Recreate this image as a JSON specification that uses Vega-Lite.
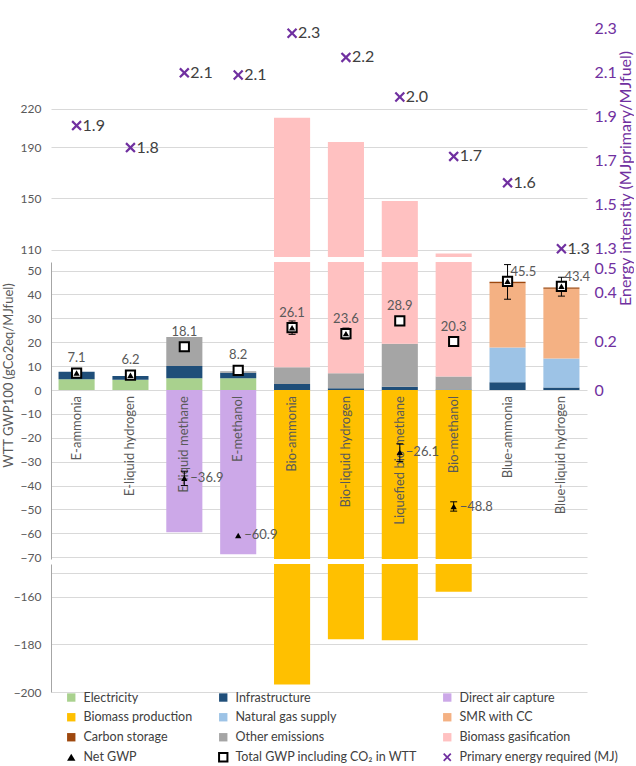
{
  "$schema": "https://vega.github.io/schema/vega-lite/v6.json",
  "background": "white",
  "padding": {"left": 2, "top": 0, "right": 0, "bottom": 0},
  "bounds": "flush",
  "spacing": 5,
  "datasets": {
    "comp": [
      {"fuel": "E-ammonia", "series": "Electricity", "value": 4.5},
      {"fuel": "E-ammonia", "series": "Infrastructure", "value": 3.1},
      {"fuel": "E-liquid hydrogen", "series": "Electricity", "value": 4.3},
      {"fuel": "E-liquid hydrogen", "series": "Infrastructure", "value": 1.6},
      {"fuel": "E-liquid methane", "series": "Electricity", "value": 4.9},
      {"fuel": "E-liquid methane", "series": "Infrastructure", "value": 5.1},
      {"fuel": "E-liquid methane", "series": "Other emissions", "value": 12.2},
      {"fuel": "E-liquid methane", "series": "Direct air capture", "value": -59.5},
      {"fuel": "E-methanol", "series": "Electricity", "value": 4.9},
      {"fuel": "E-methanol", "series": "Infrastructure", "value": 2.3},
      {"fuel": "E-methanol", "series": "Other emissions", "value": 0.7},
      {"fuel": "E-methanol", "series": "Direct air capture", "value": -68.8},
      {"fuel": "Bio-ammonia", "series": "Infrastructure", "value": 2.5},
      {"fuel": "Bio-ammonia", "series": "Other emissions", "value": 7.0},
      {"fuel": "Bio-ammonia", "series": "Biomass gasification", "value": 203.5},
      {"fuel": "Bio-ammonia", "series": "Biomass production", "value": -196.9},
      {"fuel": "Bio-liquid hydrogen", "series": "Infrastructure", "value": 0.7},
      {"fuel": "Bio-liquid hydrogen", "series": "Other emissions", "value": 6.3},
      {"fuel": "Bio-liquid hydrogen", "series": "Biomass gasification", "value": 187.0},
      {"fuel": "Bio-liquid hydrogen", "series": "Biomass production", "value": -177.8},
      {"fuel": "Liquefied bio-methane", "series": "Infrastructure", "value": 1.4},
      {"fuel": "Liquefied bio-methane", "series": "Other emissions", "value": 18.0},
      {"fuel": "Liquefied bio-methane", "series": "Biomass gasification", "value": 128.6},
      {"fuel": "Liquefied bio-methane", "series": "Biomass production", "value": -178.2},
      {"fuel": "Bio-methanol", "series": "Infrastructure", "value": 0.2},
      {"fuel": "Bio-methanol", "series": "Other emissions", "value": 5.4},
      {"fuel": "Bio-methanol", "series": "Biomass gasification", "value": 101.4},
      {"fuel": "Bio-methanol", "series": "Biomass production", "value": -157.9},
      {"fuel": "Blue-ammonia", "series": "Infrastructure", "value": 3.2},
      {"fuel": "Blue-ammonia", "series": "Natural gas supply", "value": 14.6},
      {"fuel": "Blue-ammonia", "series": "SMR with CC", "value": 26.9},
      {"fuel": "Blue-ammonia", "series": "Carbon storage", "value": 0.6},
      {"fuel": "Blue-liquid hydrogen", "series": "Infrastructure", "value": 1.0},
      {"fuel": "Blue-liquid hydrogen", "series": "Natural gas supply", "value": 12.2},
      {"fuel": "Blue-liquid hydrogen", "series": "SMR with CC", "value": 29.2},
      {"fuel": "Blue-liquid hydrogen", "series": "Carbon storage", "value": 0.5}
    ],
    "seriesOrder": [
      {"series": "Electricity", "rank": 1},
      {"series": "Infrastructure", "rank": 2},
      {"series": "Natural gas supply", "rank": 3},
      {"series": "SMR with CC", "rank": 4},
      {"series": "Carbon storage", "rank": 5},
      {"series": "Other emissions", "rank": 6},
      {"series": "Biomass gasification", "rank": 7},
      {"series": "Direct air capture", "rank": 8},
      {"series": "Biomass production", "rank": 9}
    ],
    "markers": [
      {"fuel": "E-ammonia", "total": 7.1, "net": 7.1},
      {"fuel": "E-liquid hydrogen", "total": 6.2, "net": 6.2},
      {"fuel": "E-liquid methane", "total": 18.1, "net": -36.9},
      {"fuel": "E-methanol", "total": 8.2, "net": -60.9},
      {"fuel": "Bio-ammonia", "total": 26.1, "net": 26.1},
      {"fuel": "Bio-liquid hydrogen", "total": 23.6, "net": 23.6},
      {"fuel": "Liquefied bio-methane", "total": 28.9, "net": -26.1},
      {"fuel": "Bio-methanol", "total": 20.3, "net": -48.8},
      {"fuel": "Blue-ammonia", "total": 45.5, "net": 45.5},
      {"fuel": "Blue-liquid hydrogen", "total": 43.4, "net": 43.4}
    ],
    "errs": [
      {"fuel": "E-liquid methane", "lo": -40.0, "hi": -34.0},
      {"fuel": "Bio-ammonia", "lo": 23.3, "hi": 28.9},
      {"fuel": "Bio-liquid hydrogen", "lo": 21.3, "hi": 25.9},
      {"fuel": "Liquefied bio-methane", "lo": -29.9, "hi": -22.5},
      {"fuel": "Bio-methanol", "lo": -50.7, "hi": -46.8},
      {"fuel": "Blue-ammonia", "lo": 38.0, "hi": 52.5},
      {"fuel": "Blue-liquid hydrogen", "lo": 39.3, "hi": 47.2}
    ],
    "energy": [
      {"fuel": "E-ammonia", "energy": 1.86},
      {"fuel": "E-liquid hydrogen", "energy": 1.76},
      {"fuel": "E-liquid methane", "energy": 2.1},
      {"fuel": "E-methanol", "energy": 2.09},
      {"fuel": "Bio-ammonia", "energy": 2.28},
      {"fuel": "Bio-liquid hydrogen", "energy": 2.17},
      {"fuel": "Liquefied bio-methane", "energy": 1.99},
      {"fuel": "Bio-methanol", "energy": 1.72},
      {"fuel": "Blue-ammonia", "energy": 1.6},
      {"fuel": "Blue-liquid hydrogen", "energy": 1.3}
    ]
  },
  "vconcat": [
    {
      "width": 536,
      "height": 257,
      "layer": [
        {
          "layer": [
            {
              "data": {"name": "comp"},
              "transform": [{"lookup": "series", "from": {"data": {"name": "seriesOrder"}, "key": "series", "fields": ["rank"]}}],
              "mark": {"type": "bar", "clip": true},
              "encoding": {
                "x": {"field": "fuel", "type": "nominal", "sort": null, "scale": {"domain": ["E-ammonia", "E-liquid hydrogen", "E-liquid methane", "E-methanol", "Bio-ammonia", "Bio-liquid hydrogen", "Liquefied bio-methane", "Bio-methanol", "Blue-ammonia", "Blue-liquid hydrogen"], "paddingInner": 0.33, "paddingOuter": 0.14}, "axis": null},
                "y": {"field": "value", "type": "quantitative", "stack": "zero", "scale": {"domain": [104.2, 305], "nice": false, "zero": false}, "axis": {"values": [110, 150, 190, 220], "title": null, "domain": false}},
                "color": {"field": "series", "type": "nominal", "scale": {"domain": ["Electricity", "Infrastructure", "Direct air capture", "Biomass production", "Natural gas supply", "SMR with CC", "Carbon storage", "Other emissions", "Biomass gasification", "Net GWP", "Total GWP including CO₂ in WTT", "Primary energy required (MJ)"], "range": ["#A9D18E", "#1F4E79", "#CCA8E8", "#FFC000", "#9DC3E6", "#F4B183", "#9E480E", "#A5A5A5", "#FFC1C1", "#000000", "#FFFFFF", "#7030A0"]}, "legend": {"title": null, "orient": "none", "legendX": 14, "legendY": 691, "direction": "horizontal", "columns": 3, "columnPadding": 22, "rowPadding": 3, "padding": 0, "symbolSize": 70, "labelFontSize": 12.5, "labelColor": "#404040", "labelOffset": 6, "labelLimit": 300, "encode": {"symbols": {"update": {"stroke": {"signal": "datum.value === 'Total GWP including CO₂ in WTT' ? '#000000' : 'transparent'"}, "strokeWidth": {"value": 2}, "opacity": {"value": 1}}}}}},
                "order": {"field": "rank", "type": "quantitative", "sort": "ascending"}
              }
            },
            {
              "mark": {"type": "rule", "color": "#A6A6A6"},
              "encoding": {"y": {"datum": 104.2, "type": "quantitative", "scale": {"domain": [104.2, 305], "nice": false, "zero": false}}}
            }
          ]
        },
        {
          "data": {"name": "energy"},
          "layer": [
            {
              "mark": {"type": "point", "filled": true, "opacity": 1, "size": 110},
              "encoding": {
                "x": {"field": "fuel", "type": "nominal", "sort": null, "scale": {"domain": ["E-ammonia", "E-liquid hydrogen", "E-liquid methane", "E-methanol", "Bio-ammonia", "Bio-liquid hydrogen", "Liquefied bio-methane", "Bio-methanol", "Blue-ammonia", "Blue-liquid hydrogen"], "paddingInner": 0.33, "paddingOuter": 0.14}, "axis": null},
                "y": {"field": "energy", "type": "quantitative", "scale": {"domain": [1.2627, 2.431], "nice": false, "zero": false}, "axis": {"orient": "right", "values": [1.3, 1.5, 1.7, 1.9, 2.1, 2.3], "format": ".1f", "grid": false, "domain": false, "labelColor": "#7030A0", "labelFontSize": 16, "labelPadding": 7, "title": "Energy intensity (MJprimary/MJfuel)", "titleColor": "#7030A0", "titleFontSize": 16, "titleFontWeight": "normal", "titleAngle": 270, "titleBaseline": "top", "titleAlign": "center", "titleY": 178, "titlePadding": 1}},
                "color": {"datum": "Primary energy required (MJ)", "type": "nominal", "scale": {"domain": ["Electricity", "Infrastructure", "Direct air capture", "Biomass production", "Natural gas supply", "SMR with CC", "Carbon storage", "Other emissions", "Biomass gasification", "Net GWP", "Total GWP including CO₂ in WTT", "Primary energy required (MJ)"], "range": ["#A9D18E", "#1F4E79", "#CCA8E8", "#FFC000", "#9DC3E6", "#F4B183", "#9E480E", "#A5A5A5", "#FFC1C1", "#000000", "#FFFFFF", "#7030A0"]}, "legend": {"title": null, "orient": "none", "legendX": 14, "legendY": 691, "direction": "horizontal", "columns": 3, "columnPadding": 22, "rowPadding": 3, "padding": 0, "symbolSize": 70, "labelFontSize": 12.5, "labelColor": "#404040", "labelOffset": 6, "labelLimit": 300, "encode": {"symbols": {"update": {"stroke": {"signal": "datum.value === 'Total GWP including CO₂ in WTT' ? '#000000' : 'transparent'"}, "strokeWidth": {"value": 2}, "opacity": {"value": 1}}}}}},
                "shape": {"datum": "Primary energy required (MJ)", "type": "nominal", "scale": {"domain": ["Electricity", "Infrastructure", "Direct air capture", "Biomass production", "Natural gas supply", "SMR with CC", "Carbon storage", "Other emissions", "Biomass gasification", "Net GWP", "Total GWP including CO₂ in WTT", "Primary energy required (MJ)"], "range": ["square", "square", "square", "square", "square", "square", "square", "square", "square", "triangle-up", "square", "M-1,-0.7L-0.7,-1L0,-0.3L0.7,-1L1,-0.7L0.3,0L1,0.7L0.7,1L0,0.3L-0.7,1L-1,0.7L-0.3,0Z"]}, "legend": {"title": null, "orient": "none", "legendX": 14, "legendY": 691, "direction": "horizontal", "columns": 3, "columnPadding": 22, "rowPadding": 3, "padding": 0, "symbolSize": 70, "labelFontSize": 12.5, "labelColor": "#404040", "labelOffset": 6, "labelLimit": 300, "encode": {"symbols": {"update": {"stroke": {"signal": "datum.value === 'Total GWP including CO₂ in WTT' ? '#000000' : 'transparent'"}, "strokeWidth": {"value": 2}, "opacity": {"value": 1}}}}}}
              }
            },
            {
              "mark": {"type": "text", "align": "left", "baseline": "middle", "dx": 6, "fontSize": 16, "color": "#404040"},
              "encoding": {
                "x": {"field": "fuel", "type": "nominal", "sort": null, "scale": {"domain": ["E-ammonia", "E-liquid hydrogen", "E-liquid methane", "E-methanol", "Bio-ammonia", "Bio-liquid hydrogen", "Liquefied bio-methane", "Bio-methanol", "Blue-ammonia", "Blue-liquid hydrogen"], "paddingInner": 0.33, "paddingOuter": 0.14}, "axis": null},
                "y": {"field": "energy", "type": "quantitative", "scale": {"domain": [1.2627, 2.431], "nice": false, "zero": false}},
                "text": {"field": "energy", "type": "quantitative", "format": ".1f"}
              }
            }
          ]
        }
      ],
      "resolve": {"scale": {"y": "independent"}}
    },
    {
      "width": 536,
      "height": 297,
      "layer": [
        {
          "layer": [
            {
              "data": {"name": "comp"},
              "transform": [{"lookup": "series", "from": {"data": {"name": "seriesOrder"}, "key": "series", "fields": ["rank"]}}],
              "mark": {"type": "bar", "clip": true},
              "encoding": {
                "x": {"field": "fuel", "type": "nominal", "sort": null, "scale": {"domain": ["E-ammonia", "E-liquid hydrogen", "E-liquid methane", "E-methanol", "Bio-ammonia", "Bio-liquid hydrogen", "Liquefied bio-methane", "Bio-methanol", "Blue-ammonia", "Blue-liquid hydrogen"], "paddingInner": 0.33, "paddingOuter": 0.14}, "axis": null},
                "y": {"field": "value", "type": "quantitative", "stack": "zero", "scale": {"domain": [-70.74, 53.58], "nice": false, "zero": false}, "axis": {"values": [-70, -60, -50, -40, -30, -20, -10, 0, 10, 20, 30, 40, 50], "tickCount": 13, "labelOverlap": false, "title": "WTT GWP100 (gCo2eq/MJfuel)", "titleFontSize": 13, "titleColor": "#595959", "titleFontWeight": "normal", "titlePadding": 5, "titleY": 113}},
                "color": {"field": "series", "type": "nominal", "scale": {"domain": ["Electricity", "Infrastructure", "Direct air capture", "Biomass production", "Natural gas supply", "SMR with CC", "Carbon storage", "Other emissions", "Biomass gasification", "Net GWP", "Total GWP including CO₂ in WTT", "Primary energy required (MJ)"], "range": ["#A9D18E", "#1F4E79", "#CCA8E8", "#FFC000", "#9DC3E6", "#F4B183", "#9E480E", "#A5A5A5", "#FFC1C1", "#000000", "#FFFFFF", "#7030A0"]}, "legend": {"title": null, "orient": "none", "legendX": 14, "legendY": 691, "direction": "horizontal", "columns": 3, "columnPadding": 22, "rowPadding": 3, "padding": 0, "symbolSize": 70, "labelFontSize": 12.5, "labelColor": "#404040", "labelOffset": 6, "labelLimit": 300, "encode": {"symbols": {"update": {"stroke": {"signal": "datum.value === 'Total GWP including CO₂ in WTT' ? '#000000' : 'transparent'"}, "strokeWidth": {"value": 2}, "opacity": {"value": 1}}}}}},
                "order": {"field": "rank", "type": "quantitative", "sort": "ascending"}
              }
            },
            {
              "mark": {"type": "rule", "color": "#A6A6A6"},
              "encoding": {"y": {"datum": 53.58, "type": "quantitative", "scale": {"domain": [-70.74, 53.58], "nice": false, "zero": false}}}
            },
            {
              "mark": {"type": "rule", "color": "#A6A6A6"},
              "encoding": {"y": {"datum": -70.74, "type": "quantitative", "scale": {"domain": [-70.74, 53.58], "nice": false, "zero": false}}}
            },
            {
              "data": {"name": "energy"},
              "mark": {"type": "text", "angle": 270, "align": "right", "baseline": "middle", "dx": -6, "fontSize": 13, "color": "#595959"},
              "encoding": {
                "x": {"field": "fuel", "type": "nominal", "sort": null, "scale": {"domain": ["E-ammonia", "E-liquid hydrogen", "E-liquid methane", "E-methanol", "Bio-ammonia", "Bio-liquid hydrogen", "Liquefied bio-methane", "Bio-methanol", "Blue-ammonia", "Blue-liquid hydrogen"], "paddingInner": 0.33, "paddingOuter": 0.14}, "axis": null},
                "y": {"datum": 0, "type": "quantitative", "scale": {"domain": [-70.74, 53.58], "nice": false, "zero": false}},
                "text": {"field": "fuel", "type": "nominal"}
              }
            },
            {
              "data": {"name": "errs"},
              "mark": {"type": "rule", "color": "#000000", "strokeWidth": 1},
              "encoding": {
                "x": {"field": "fuel", "type": "nominal", "sort": null, "scale": {"domain": ["E-ammonia", "E-liquid hydrogen", "E-liquid methane", "E-methanol", "Bio-ammonia", "Bio-liquid hydrogen", "Liquefied bio-methane", "Bio-methanol", "Blue-ammonia", "Blue-liquid hydrogen"], "paddingInner": 0.33, "paddingOuter": 0.14}, "axis": null},
                "y": {"field": "lo", "type": "quantitative", "scale": {"domain": [-70.74, 53.58], "nice": false, "zero": false}},
                "y2": {"field": "hi"}
              }
            },
            {
              "data": {"name": "errs"},
              "mark": {"type": "tick", "color": "#000000", "thickness": 1, "size": 7, "orient": "horizontal", "opacity": 1},
              "encoding": {
                "x": {"field": "fuel", "type": "nominal", "sort": null, "scale": {"domain": ["E-ammonia", "E-liquid hydrogen", "E-liquid methane", "E-methanol", "Bio-ammonia", "Bio-liquid hydrogen", "Liquefied bio-methane", "Bio-methanol", "Blue-ammonia", "Blue-liquid hydrogen"], "paddingInner": 0.33, "paddingOuter": 0.14}, "axis": null},
                "y": {"field": "lo", "type": "quantitative", "scale": {"domain": [-70.74, 53.58], "nice": false, "zero": false}}
              }
            },
            {
              "data": {"name": "errs"},
              "mark": {"type": "tick", "color": "#000000", "thickness": 1, "size": 7, "orient": "horizontal", "opacity": 1},
              "encoding": {
                "x": {"field": "fuel", "type": "nominal", "sort": null, "scale": {"domain": ["E-ammonia", "E-liquid hydrogen", "E-liquid methane", "E-methanol", "Bio-ammonia", "Bio-liquid hydrogen", "Liquefied bio-methane", "Bio-methanol", "Blue-ammonia", "Blue-liquid hydrogen"], "paddingInner": 0.33, "paddingOuter": 0.14}, "axis": null},
                "y": {"field": "hi", "type": "quantitative", "scale": {"domain": [-70.74, 53.58], "nice": false, "zero": false}}
              }
            },
            {
              "data": {"name": "markers"},
              "mark": {"type": "point", "filled": true, "opacity": 1, "size": 85, "stroke": "#000000", "strokeWidth": 2},
              "encoding": {
                "x": {"field": "fuel", "type": "nominal", "sort": null, "scale": {"domain": ["E-ammonia", "E-liquid hydrogen", "E-liquid methane", "E-methanol", "Bio-ammonia", "Bio-liquid hydrogen", "Liquefied bio-methane", "Bio-methanol", "Blue-ammonia", "Blue-liquid hydrogen"], "paddingInner": 0.33, "paddingOuter": 0.14}, "axis": null},
                "y": {"field": "total", "type": "quantitative", "scale": {"domain": [-70.74, 53.58], "nice": false, "zero": false}},
                "color": {"datum": "Total GWP including CO₂ in WTT", "type": "nominal", "scale": {"domain": ["Electricity", "Infrastructure", "Direct air capture", "Biomass production", "Natural gas supply", "SMR with CC", "Carbon storage", "Other emissions", "Biomass gasification", "Net GWP", "Total GWP including CO₂ in WTT", "Primary energy required (MJ)"], "range": ["#A9D18E", "#1F4E79", "#CCA8E8", "#FFC000", "#9DC3E6", "#F4B183", "#9E480E", "#A5A5A5", "#FFC1C1", "#000000", "#FFFFFF", "#7030A0"]}, "legend": {"title": null, "orient": "none", "legendX": 14, "legendY": 691, "direction": "horizontal", "columns": 3, "columnPadding": 22, "rowPadding": 3, "padding": 0, "symbolSize": 70, "labelFontSize": 12.5, "labelColor": "#404040", "labelOffset": 6, "labelLimit": 300, "encode": {"symbols": {"update": {"stroke": {"signal": "datum.value === 'Total GWP including CO₂ in WTT' ? '#000000' : 'transparent'"}, "strokeWidth": {"value": 2}, "opacity": {"value": 1}}}}}},
                "shape": {"datum": "Total GWP including CO₂ in WTT", "type": "nominal", "scale": {"domain": ["Electricity", "Infrastructure", "Direct air capture", "Biomass production", "Natural gas supply", "SMR with CC", "Carbon storage", "Other emissions", "Biomass gasification", "Net GWP", "Total GWP including CO₂ in WTT", "Primary energy required (MJ)"], "range": ["square", "square", "square", "square", "square", "square", "square", "square", "square", "triangle-up", "square", "M-1,-0.7L-0.7,-1L0,-0.3L0.7,-1L1,-0.7L0.3,0L1,0.7L0.7,1L0,0.3L-0.7,1L-1,0.7L-0.3,0Z"]}, "legend": {"title": null, "orient": "none", "legendX": 14, "legendY": 691, "direction": "horizontal", "columns": 3, "columnPadding": 22, "rowPadding": 3, "padding": 0, "symbolSize": 70, "labelFontSize": 12.5, "labelColor": "#404040", "labelOffset": 6, "labelLimit": 300, "encode": {"symbols": {"update": {"stroke": {"signal": "datum.value === 'Total GWP including CO₂ in WTT' ? '#000000' : 'transparent'"}, "strokeWidth": {"value": 2}, "opacity": {"value": 1}}}}}}
              }
            },
            {
              "data": {"name": "markers"},
              "mark": {"type": "point", "filled": true, "opacity": 1, "size": 40},
              "encoding": {
                "x": {"field": "fuel", "type": "nominal", "sort": null, "scale": {"domain": ["E-ammonia", "E-liquid hydrogen", "E-liquid methane", "E-methanol", "Bio-ammonia", "Bio-liquid hydrogen", "Liquefied bio-methane", "Bio-methanol", "Blue-ammonia", "Blue-liquid hydrogen"], "paddingInner": 0.33, "paddingOuter": 0.14}, "axis": null},
                "y": {"field": "net", "type": "quantitative", "scale": {"domain": [-70.74, 53.58], "nice": false, "zero": false}},
                "color": {"datum": "Net GWP", "type": "nominal", "scale": {"domain": ["Electricity", "Infrastructure", "Direct air capture", "Biomass production", "Natural gas supply", "SMR with CC", "Carbon storage", "Other emissions", "Biomass gasification", "Net GWP", "Total GWP including CO₂ in WTT", "Primary energy required (MJ)"], "range": ["#A9D18E", "#1F4E79", "#CCA8E8", "#FFC000", "#9DC3E6", "#F4B183", "#9E480E", "#A5A5A5", "#FFC1C1", "#000000", "#FFFFFF", "#7030A0"]}, "legend": {"title": null, "orient": "none", "legendX": 14, "legendY": 691, "direction": "horizontal", "columns": 3, "columnPadding": 22, "rowPadding": 3, "padding": 0, "symbolSize": 70, "labelFontSize": 12.5, "labelColor": "#404040", "labelOffset": 6, "labelLimit": 300, "encode": {"symbols": {"update": {"stroke": {"signal": "datum.value === 'Total GWP including CO₂ in WTT' ? '#000000' : 'transparent'"}, "strokeWidth": {"value": 2}, "opacity": {"value": 1}}}}}},
                "shape": {"datum": "Net GWP", "type": "nominal", "scale": {"domain": ["Electricity", "Infrastructure", "Direct air capture", "Biomass production", "Natural gas supply", "SMR with CC", "Carbon storage", "Other emissions", "Biomass gasification", "Net GWP", "Total GWP including CO₂ in WTT", "Primary energy required (MJ)"], "range": ["square", "square", "square", "square", "square", "square", "square", "square", "square", "triangle-up", "square", "M-1,-0.7L-0.7,-1L0,-0.3L0.7,-1L1,-0.7L0.3,0L1,0.7L0.7,1L0,0.3L-0.7,1L-1,0.7L-0.3,0Z"]}, "legend": {"title": null, "orient": "none", "legendX": 14, "legendY": 691, "direction": "horizontal", "columns": 3, "columnPadding": 22, "rowPadding": 3, "padding": 0, "symbolSize": 70, "labelFontSize": 12.5, "labelColor": "#404040", "labelOffset": 6, "labelLimit": 300, "encode": {"symbols": {"update": {"stroke": {"signal": "datum.value === 'Total GWP including CO₂ in WTT' ? '#000000' : 'transparent'"}, "strokeWidth": {"value": 2}, "opacity": {"value": 1}}}}}}
              }
            },
            {
              "data": {"name": "markers"},
              "transform": [{"filter": "datum.fuel != 'Blue-ammonia' && datum.fuel != 'Blue-liquid hydrogen'"}],
              "mark": {"type": "text", "baseline": "middle", "dy": -15, "fontSize": 13, "color": "#595959"},
              "encoding": {
                "x": {"field": "fuel", "type": "nominal", "sort": null, "scale": {"domain": ["E-ammonia", "E-liquid hydrogen", "E-liquid methane", "E-methanol", "Bio-ammonia", "Bio-liquid hydrogen", "Liquefied bio-methane", "Bio-methanol", "Blue-ammonia", "Blue-liquid hydrogen"], "paddingInner": 0.33, "paddingOuter": 0.14}, "axis": null},
                "y": {"field": "total", "type": "quantitative", "scale": {"domain": [-70.74, 53.58], "nice": false, "zero": false}},
                "text": {"field": "total", "type": "quantitative", "format": ".1f"}
              }
            },
            {
              "data": {"name": "markers"},
              "transform": [{"filter": "datum.fuel == 'Blue-ammonia' || datum.fuel == 'Blue-liquid hydrogen'"}],
              "mark": {"type": "text", "baseline": "middle", "align": "left", "dx": 3, "dy": -9, "fontSize": 13, "color": "#595959"},
              "encoding": {
                "x": {"field": "fuel", "type": "nominal", "sort": null, "scale": {"domain": ["E-ammonia", "E-liquid hydrogen", "E-liquid methane", "E-methanol", "Bio-ammonia", "Bio-liquid hydrogen", "Liquefied bio-methane", "Bio-methanol", "Blue-ammonia", "Blue-liquid hydrogen"], "paddingInner": 0.33, "paddingOuter": 0.14}, "axis": null},
                "y": {"field": "total", "type": "quantitative", "scale": {"domain": [-70.74, 53.58], "nice": false, "zero": false}},
                "text": {"field": "total", "type": "quantitative", "format": ".1f"}
              }
            },
            {
              "data": {"name": "markers"},
              "transform": [{"filter": "datum.net < 0"}],
              "mark": {"type": "text", "baseline": "middle", "align": "left", "dx": 6, "fontSize": 13, "color": "#595959"},
              "encoding": {
                "x": {"field": "fuel", "type": "nominal", "sort": null, "scale": {"domain": ["E-ammonia", "E-liquid hydrogen", "E-liquid methane", "E-methanol", "Bio-ammonia", "Bio-liquid hydrogen", "Liquefied bio-methane", "Bio-methanol", "Blue-ammonia", "Blue-liquid hydrogen"], "paddingInner": 0.33, "paddingOuter": 0.14}, "axis": null},
                "y": {"field": "net", "type": "quantitative", "scale": {"domain": [-70.74, 53.58], "nice": false, "zero": false}},
                "text": {"field": "net", "type": "quantitative", "format": ".1f"}
              }
            }
          ]
        },
        {
          "mark": {"type": "rule", "opacity": 0},
          "encoding": {
            "y": {"datum": 0, "type": "quantitative", "scale": {"domain": [-0.6926, 0.5246], "nice": false, "zero": false}, "axis": {"orient": "right", "values": [0, 0.2, 0.4, 0.5], "format": "~g", "grid": false, "domain": false, "labelColor": "#7030A0", "labelFontSize": 16, "labelPadding": 7, "title": null}}
          }
        }
      ],
      "resolve": {"scale": {"y": "independent"}}
    },
    {
      "width": 536,
      "height": 128,
      "layer": [
        {
          "data": {"name": "comp"},
          "transform": [{"lookup": "series", "from": {"data": {"name": "seriesOrder"}, "key": "series", "fields": ["rank"]}}],
          "mark": {"type": "bar", "clip": true},
          "encoding": {
            "x": {"field": "fuel", "type": "nominal", "sort": null, "scale": {"domain": ["E-ammonia", "E-liquid hydrogen", "E-liquid methane", "E-methanol", "Bio-ammonia", "Bio-liquid hydrogen", "Liquefied bio-methane", "Bio-methanol", "Blue-ammonia", "Blue-liquid hydrogen"], "paddingInner": 0.33, "paddingOuter": 0.14}, "axis": null},
            "y": {"field": "value", "type": "quantitative", "stack": "zero", "scale": {"domain": [-200, -146.2], "nice": false, "zero": false}, "axis": {"values": [-150, -160, -180, -200], "labelExpr": "datum.value == -150 ? '' : datum.label", "title": null}},
            "color": {"field": "series", "type": "nominal", "scale": {"domain": ["Electricity", "Infrastructure", "Direct air capture", "Biomass production", "Natural gas supply", "SMR with CC", "Carbon storage", "Other emissions", "Biomass gasification", "Net GWP", "Total GWP including CO₂ in WTT", "Primary energy required (MJ)"], "range": ["#A9D18E", "#1F4E79", "#CCA8E8", "#FFC000", "#9DC3E6", "#F4B183", "#9E480E", "#A5A5A5", "#FFC1C1", "#000000", "#FFFFFF", "#7030A0"]}, "legend": {"title": null, "orient": "none", "legendX": 14, "legendY": 691, "direction": "horizontal", "columns": 3, "columnPadding": 22, "rowPadding": 3, "padding": 0, "symbolSize": 70, "labelFontSize": 12.5, "labelColor": "#404040", "labelOffset": 6, "labelLimit": 300, "encode": {"symbols": {"update": {"stroke": {"signal": "datum.value === 'Total GWP including CO₂ in WTT' ? '#000000' : 'transparent'"}, "strokeWidth": {"value": 2}, "opacity": {"value": 1}}}}}},
            "order": {"field": "rank", "type": "quantitative", "sort": "ascending"}
          }
        },
        {
          "mark": {"type": "rule", "color": "#A6A6A6"},
          "encoding": {"y": {"datum": -146.2, "type": "quantitative", "scale": {"domain": [-200, -146.2], "nice": false, "zero": false}}}
        }
      ]
    }
  ],
  "config": {
    "font": "Lato",
    "view": {"stroke": null},
    "axis": {"labelColor": "#595959", "labelFontSize": 12, "gridColor": "#D9D9D9", "domainColor": "#A6A6A6", "ticks": false, "labelPadding": 10, "labelOverlap": false}
  }
}
